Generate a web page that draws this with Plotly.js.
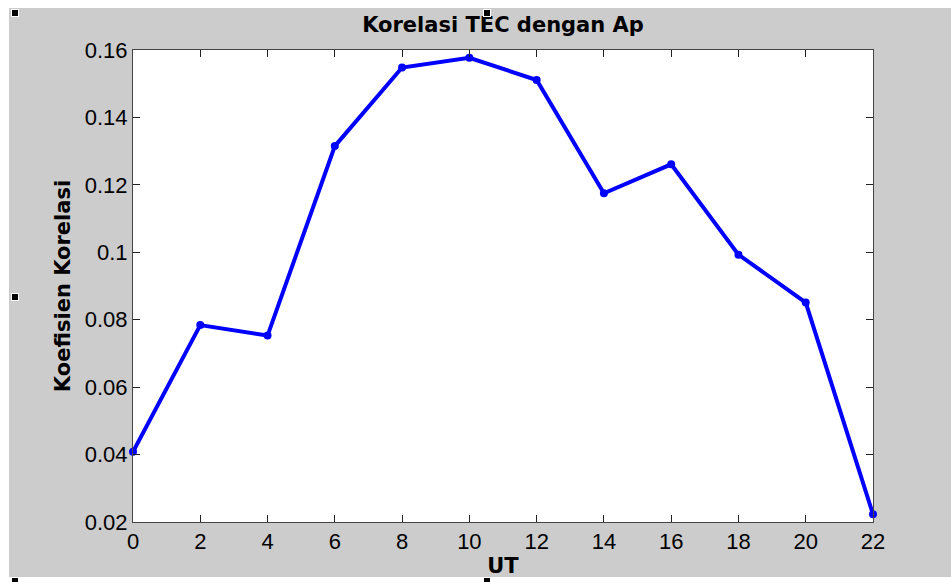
<!DOCTYPE html>
<html>
<head>
<meta charset="utf-8">
<script src="https://cdn.plot.ly/plotly-3.0.1.min.js"></script>
<style>
  html, body { margin: 0; padding: 0; background: #ffffff; }
  #wrap { position: relative; width: 951px; height: 582px; overflow: hidden; }
  #bg { position: absolute; left: 9px; top: 8px; width: 942px; height: 569px; background: #cccccc; }
  #chart { position: absolute; left: 0; top: 0; width: 951px; height: 582px; }
  .h { position: absolute; width: 6px; height: 6px; background: #000; border: 1px solid #fff; }
</style>
</head>
<body>
<div id="wrap">
  <div id="bg"></div>
  <div id="chart"></div>
  <div class="h" style="left:11px;top:9px"></div>
  <div class="h" style="left:483px;top:9px"></div>
  <div class="h" style="left:11px;top:293px"></div>
  <div class="h" style="left:11px;top:577px"></div>
  <div class="h" style="left:483px;top:577px"></div>
</div>
<script>
const ut = [0, 2, 4, 6, 8, 10, 12, 14, 16, 18, 20, 22];
const koefisien = [0.0408, 0.0784, 0.0753, 0.1315, 0.1548, 0.1577, 0.1511, 0.1175, 0.1261, 0.0993, 0.0851, 0.0223];
const xTicks = [0, 2, 4, 6, 8, 10, 12, 14, 16, 18, 20, 22];
const yTicks = [0.02, 0.04, 0.06, 0.08, 0.1, 0.12, 0.14, 0.16];
const yTickLabels = ['0.02', '0.04', '0.06', '0.08', '0.1', '0.12', '0.14', '0.16'];

const trace = {
  x: ut,
  y: koefisien,
  type: 'scatter',
  mode: 'lines+markers',
  line: { color: '#0000ff', width: 4 },
  marker: { color: '#0000ff', size: 8, symbol: 'circle' },
  cliponaxis: false,
  hoverinfo: 'x+y'
};

const tickFont = { family: 'Liberation Sans, Arial, sans-serif', size: 22, color: '#000000' };
const titleFontFamily = 'DejaVu Sans, Verdana, sans-serif';

const layout = {
  width: 951,
  height: 582,
  margin: { l: 133, r: 78, t: 50, b: 60, pad: 0 },
  paper_bgcolor: 'rgba(0,0,0,0)',
  plot_bgcolor: '#ffffff',
  showlegend: false,
  title: {
    text: '<b>Korelasi TEC dengan Ap</b>',
    font: { family: titleFontFamily, size: 21, color: '#000000' },
    x: 0.5, xref: 'paper', xanchor: 'center',
    y: 0.958, yref: 'container', yanchor: 'middle'
  },
  xaxis: {
    range: [0, 22],
    tickvals: xTicks,
    ticktext: xTicks.map(String),
    ticks: 'inside',
    ticklen: 7,
    tickwidth: 1,
    tickcolor: '#222222',
    showgrid: false,
    zeroline: false,
    showline: true,
    linecolor: '#444444',
    linewidth: 1,
    mirror: 'ticks',
    tickfont: tickFont,
    title: {
      text: '<b>UT</b>',
      font: { family: titleFontFamily, size: 21, color: '#000000' },
      standoff: 4
    }
  },
  yaxis: {
    range: [0.02, 0.16],
    tickvals: yTicks,
    ticktext: yTickLabels,
    ticks: 'inside',
    ticklen: 7,
    tickwidth: 1,
    tickcolor: '#222222',
    showgrid: false,
    zeroline: false,
    showline: true,
    linecolor: '#444444',
    linewidth: 1,
    mirror: 'ticks',
    tickfont: tickFont,
    title: {
      text: '<b>Koefisien Korelasi</b>',
      font: { family: titleFontFamily, size: 21, color: '#000000' },
      standoff: 8
    }
  }
};

Plotly.newPlot('chart', [trace], layout, { displayModeBar: false, staticPlot: true });
</script>
</body>
</html>
